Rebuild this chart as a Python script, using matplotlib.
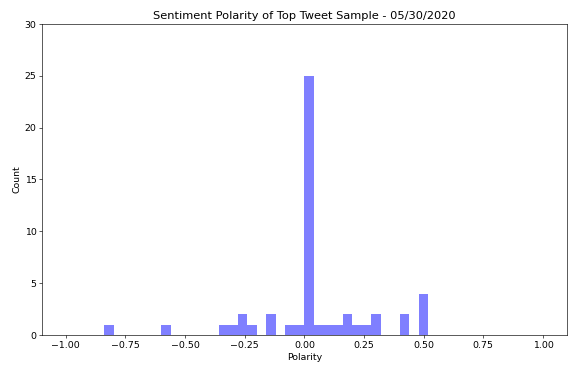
import matplotlib
matplotlib.use("Agg")
import matplotlib.pyplot as plt
import numpy as np


# polarity histogram, 50 bins over [-1, 1]
bin_edges = np.linspace(-1.0, 1.0, 51)
bin_counts = [
    0, 0, 0, 0, 1, 0, 0, 0, 0, 0,   # -1.00 .. -0.60
    1, 0, 0, 0, 0, 0, 1, 1, 2, 1,   # -0.60 .. -0.20
    0, 2, 0, 1, 1, 25, 1, 1, 1, 2,  # -0.20 ..  0.20
    1, 1, 2, 0, 0, 2, 0, 4, 0, 0,   #  0.20 ..  0.60
    0, 0, 0, 0, 0, 0, 0, 0, 0, 0,   #  0.60 ..  1.00
]

centers = (bin_edges[:-1] + bin_edges[1:]) / 2

plt.rcParams["font.size"] = 11.9

fig = plt.figure(figsize=(10, 6.47), dpi=57.2)
ax = fig.add_axes([0.0734, 0.0946, 0.9176, 0.8404])
ax.hist(centers, bins=bin_edges, weights=bin_counts, color="blue", alpha=0.5)
ax.set_xlim(-1.1, 1.1)
ax.set_ylim(0, 30)
ax.set_xticks(np.arange(-1.0, 1.01, 0.25))
ax.set_title("Sentiment Polarity of Top Tweet Sample - 05/30/2020")
ax.set_xlabel("Polarity")
ax.set_ylabel("Count")

fig.savefig("out.png", dpi=57.2)
